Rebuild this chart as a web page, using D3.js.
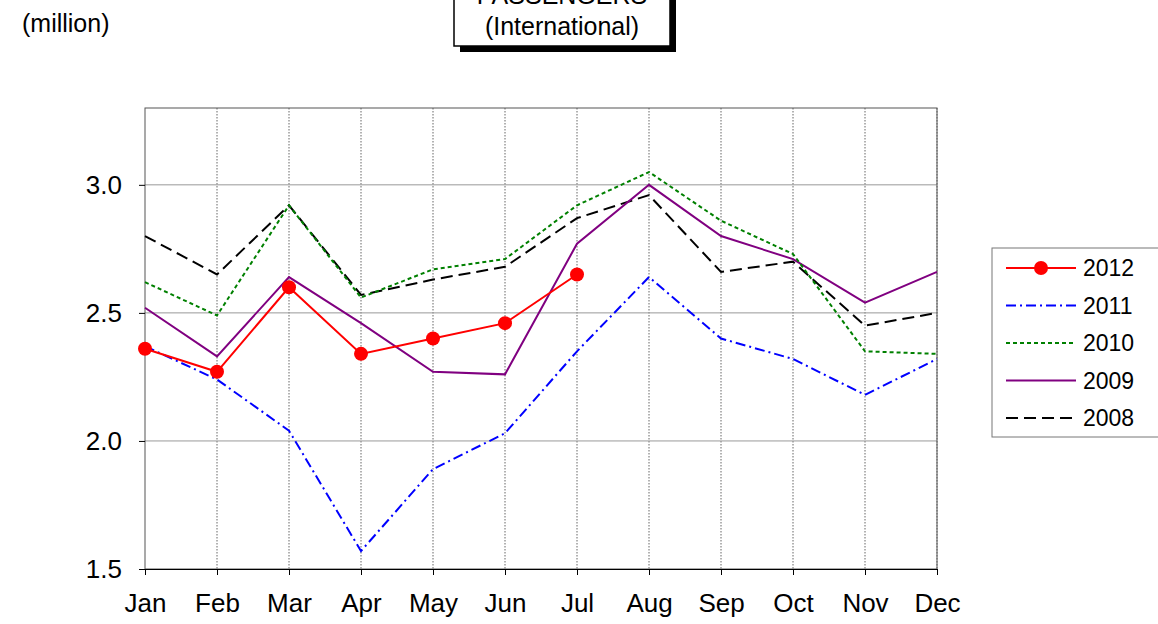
<!DOCTYPE html>
<html><head><meta charset="utf-8">
<script src="https://cdn.jsdelivr.net/npm/d3@7"></script>
<style>body{margin:0;background:#fff}text{font-family:"Liberation Sans",Arial,sans-serif}</style>
</head><body>
<script>
const months = ["Jan","Feb","Mar","Apr","May","Jun","Jul","Aug","Sep","Oct","Nov","Dec"];
const yTicks = [1.5, 2.0, 2.5, 3.0];
const v2012 = [2.36,2.27,2.60,2.34,2.40,2.46,2.65];
const v2011 = [2.37,2.24,2.04,1.57,1.89,2.03,2.35,2.64,2.40,2.32,2.18,2.32];
const v2010 = [2.62,2.49,2.92,2.56,2.67,2.71,2.92,3.05,2.86,2.73,2.35,2.34];
const v2009 = [2.52,2.33,2.64,2.46,2.27,2.26,2.77,3.00,2.80,2.71,2.54,2.66];
const v2008 = [2.80,2.65,2.92,2.57,2.63,2.68,2.87,2.96,2.66,2.70,2.45,2.50];

const series = [
  {name:"2012", values:v2012, color:"#ff0000", dash:null, dots:true},
  {name:"2011", values:v2011, color:"#0000ff", dash:"10,4,2,4", dots:false},
  {name:"2010", values:v2010, color:"#008000", dash:"4,3", dots:false},
  {name:"2009", values:v2009, color:"#800080", dash:null, dots:false},
  {name:"2008", values:v2008, color:"#000000", dash:"12,6", dots:false}
];

const W = 1158, H = 624;
const L = 145, R = 937, T = 108, B = 569;
const svg = d3.select("body").append("svg").attr("width", W).attr("height", H);

const x = d3.scalePoint().domain(months).range([L, R]);
const y = d3.scaleLinear().domain([1.5, 3.3]).range([B, T]);

// title box with shadow
svg.append("rect").attr("x", 460).attr("y", -10).attr("width", 216).attr("height", 62).attr("fill", "#000");
svg.append("rect").attr("x", 454).attr("y", -14).attr("width", 216).attr("height", 60).attr("fill", "#fff").attr("stroke", "#000").attr("stroke-width", 1.5);
svg.append("text").attr("x", 562).attr("y", 4).attr("text-anchor", "middle").attr("font-size", 25).text("PASSENGERS");
svg.append("text").attr("x", 562).attr("y", 35).attr("text-anchor", "middle").attr("font-size", 25).text("(International)");
svg.append("text").attr("x", 22).attr("y", 32).attr("font-size", 25).text("(million)");

// grid
svg.append("g").selectAll("line").data(months.slice(1)).join("line")
  .attr("x1", d => x(d)).attr("x2", d => x(d)).attr("y1", T).attr("y2", B)
  .attr("stroke", "#666").attr("stroke-dasharray", "1.5,1.5");
svg.append("g").selectAll("line").data(yTicks.slice(1)).join("line")
  .attr("x1", L).attr("x2", R).attr("y1", d => y(d)).attr("y2", d => y(d))
  .attr("stroke", "#999");
svg.append("rect").attr("x", L).attr("y", T).attr("width", R - L).attr("height", B - T)
  .attr("fill", "none").attr("stroke", "#555");

// axes
const ya = svg.append("g").attr("transform", `translate(${L},0)`)
  .call(d3.axisLeft(y).tickValues(yTicks).tickFormat(d3.format(".1f")).tickSize(6));
ya.selectAll("text").attr("font-size", 26).attr("fill", "#000").attr("dx", -14).attr("font-family", "Liberation Sans, Arial, sans-serif");
ya.select(".domain").remove();
const xa = svg.append("g").attr("transform", `translate(0,${B})`)
  .call(d3.axisBottom(x).tickSize(6));
xa.selectAll("text").attr("font-size", 26).attr("fill", "#000").attr("dy", 34).attr("font-family", "Liberation Sans, Arial, sans-serif");
xa.select(".domain").attr("stroke", "#000");

const line = d3.line().x((d, i) => x(months[i])).y(d => y(d));
series.slice().reverse().forEach(s => {
  svg.append("path").datum(s.values).attr("d", line).attr("fill", "none")
    .attr("stroke", s.color).attr("stroke-width", 2).attr("stroke-dasharray", s.dash);
  if (s.dots) svg.append("g").selectAll("circle").data(s.values).join("circle")
    .attr("cx", (d, i) => x(months[i])).attr("cy", d => y(d)).attr("r", 7).attr("fill", s.color);
});

// legend
const lg = svg.append("g");
lg.append("rect").attr("x", 992).attr("y", 248).attr("width", 170).attr("height", 189)
  .attr("fill", "#fff").attr("stroke", "#777");
series.forEach((s, i) => {
  const yy = 268 + i * 37.5;
  lg.append("line").attr("x1", 1006).attr("x2", 1076).attr("y1", yy).attr("y2", yy)
    .attr("stroke", s.color).attr("stroke-width", 2).attr("stroke-dasharray", s.dash);
  if (s.dots) lg.append("circle").attr("cx", 1041).attr("cy", yy).attr("r", 7).attr("fill", s.color);
  lg.append("text").attr("x", 1083).attr("y", yy + 8).attr("font-size", 23).text(s.name);
});
</script>
</body></html>
